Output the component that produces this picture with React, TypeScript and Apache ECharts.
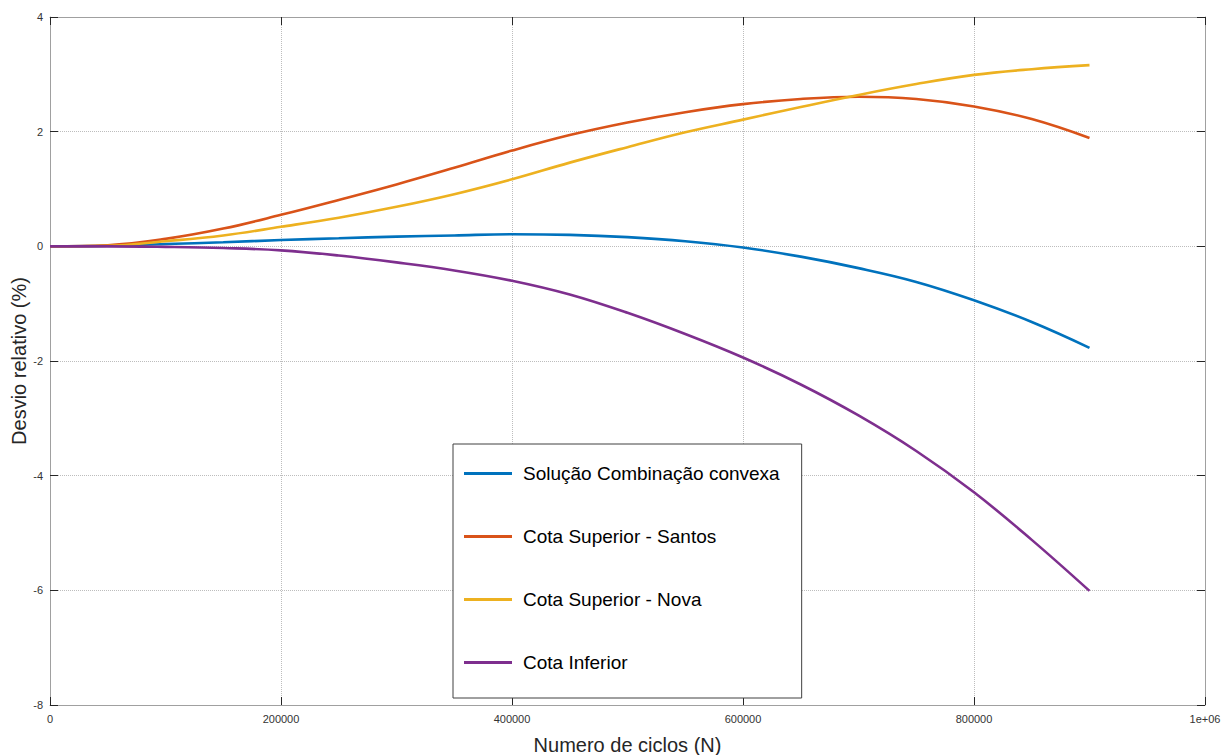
import React, { useEffect, useRef } from "react";
import * as echarts from "echarts";

const xValues = [0, 50000, 100000, 150000, 200000, 250000, 300000, 350000, 400000, 450000, 500000, 550000, 600000, 650000, 700000, 750000, 800000, 850000, 900000];
const solucao = [0, 0.01, 0.04, 0.07, 0.11, 0.14, 0.17, 0.19, 0.21, 0.2, 0.16, 0.09, -0.02, -0.18, -0.38, -0.62, -0.94, -1.32, -1.77];
const santos = [0, 0.02, 0.13, 0.31, 0.55, 0.81, 1.08, 1.37, 1.67, 1.94, 2.16, 2.34, 2.48, 2.57, 2.61, 2.57, 2.44, 2.22, 1.89];
const nova = [0, 0.01, 0.09, 0.19, 0.34, 0.5, 0.69, 0.91, 1.17, 1.46, 1.73, 1.99, 2.21, 2.43, 2.64, 2.83, 2.99, 3.09, 3.16];
const inferior = [0, 0, -0.01, -0.03, -0.07, -0.16, -0.28, -0.42, -0.6, -0.84, -1.16, -1.53, -1.94, -2.41, -2.95, -3.57, -4.29, -5.12, -6.01];

const seriesNames = ["Solução Combinação convexa", "Cota Superior - Santos", "Cota Superior - Nova", "Cota Inferior"];
const seriesColors = ["#0072BD", "#D95319", "#EDB120", "#7E2F8E"];
const seriesData = [solucao, santos, nova, inferior];

const FONT = "'Liberation Sans', Arial, sans-serif";

export default function App() {
  const ref = useRef<HTMLDivElement>(null);
  useEffect(() => {
    if (!ref.current) return;
    const chart = echarts.init(ref.current, undefined, { renderer: "svg" });
    const axisCommon = {
      type: "value" as const,
      axisLine: { show: true, onZero: false, lineStyle: { color: "#a0a0a0", width: 1 } },
      axisTick: { show: true, inside: true, length: 8, lineStyle: { color: "#262626" } },
    };
    chart.setOption({
      animation: false,
      backgroundColor: "#ffffff",
      grid: { left: 50, right: 26, top: 17, bottom: 50, containLabel: false, outerBoundsMode: "none" },
      legend: {
        orient: "vertical",
        left: 453,
        top: 444,
        padding: [20, 22, 26, 11],
        itemGap: 44,
        itemWidth: 48,
        itemHeight: 3,
        icon: "rect",
        borderColor: "#404040",
        borderWidth: 1,
        backgroundColor: "#ffffff",
        textStyle: { fontSize: 19, fontFamily: FONT, color: "#000000", padding: [0, 0, 0, 6] },
        data: seriesNames,
      },
      xAxis: [
        {
          ...axisCommon,
          min: 0,
          max: 1000000,
          interval: 200000,
          position: "bottom",
          name: "Numero de ciclos (N)",
          nameLocation: "middle",
          nameGap: 30,
          nameMoveOverlap: false,
          nameTextStyle: { fontSize: 20, fontFamily: FONT, color: "#262626" },
          axisLabel: {
            fontSize: 11,
            fontFamily: FONT,
            color: "#333333",
            margin: 8,
            formatter: (v: number) => (v === 1000000 ? "1e+06" : String(v)),
          },
          splitLine: { show: true, lineStyle: { type: "dotted", color: "#bdbdbd", width: 1 } },
        },
        {
          ...axisCommon,
          min: 0,
          max: 1000000,
          interval: 200000,
          position: "top",
          axisLabel: { show: false },
          splitLine: { show: false },
        },
      ],
      yAxis: [
        {
          ...axisCommon,
          min: -8,
          max: 4,
          interval: 2,
          position: "left",
          name: "Desvio relativo (%)",
          nameLocation: "middle",
          nameGap: 21,
          nameMoveOverlap: false,
          nameTextStyle: { fontSize: 20, fontFamily: FONT, color: "#262626" },
          axisLabel: { fontSize: 11, fontFamily: FONT, color: "#333333", margin: 7 },
          splitLine: { show: true, lineStyle: { type: "dotted", color: "#bdbdbd", width: 1 } },
        },
        {
          ...axisCommon,
          min: -8,
          max: 4,
          interval: 2,
          position: "right",
          axisLabel: { show: false },
          splitLine: { show: false },
        },
      ],
      series: seriesNames.map((name, i) => ({
        name,
        type: "line",
        xAxisIndex: 0,
        yAxisIndex: 0,
        data: xValues.map((x, j) => [x, seriesData[i][j]]),
        smooth: 0.4,
        showSymbol: false,
        symbol: "none",
        color: seriesColors[i],
        lineStyle: { width: 2.6, color: seriesColors[i] },
      })),
    });
    return () => chart.dispose();
  }, []);
  return (
    <div
      ref={ref}
      style={{ position: "absolute", left: 0, top: 0, width: 1231, height: 755 }}
    />
  );
}
